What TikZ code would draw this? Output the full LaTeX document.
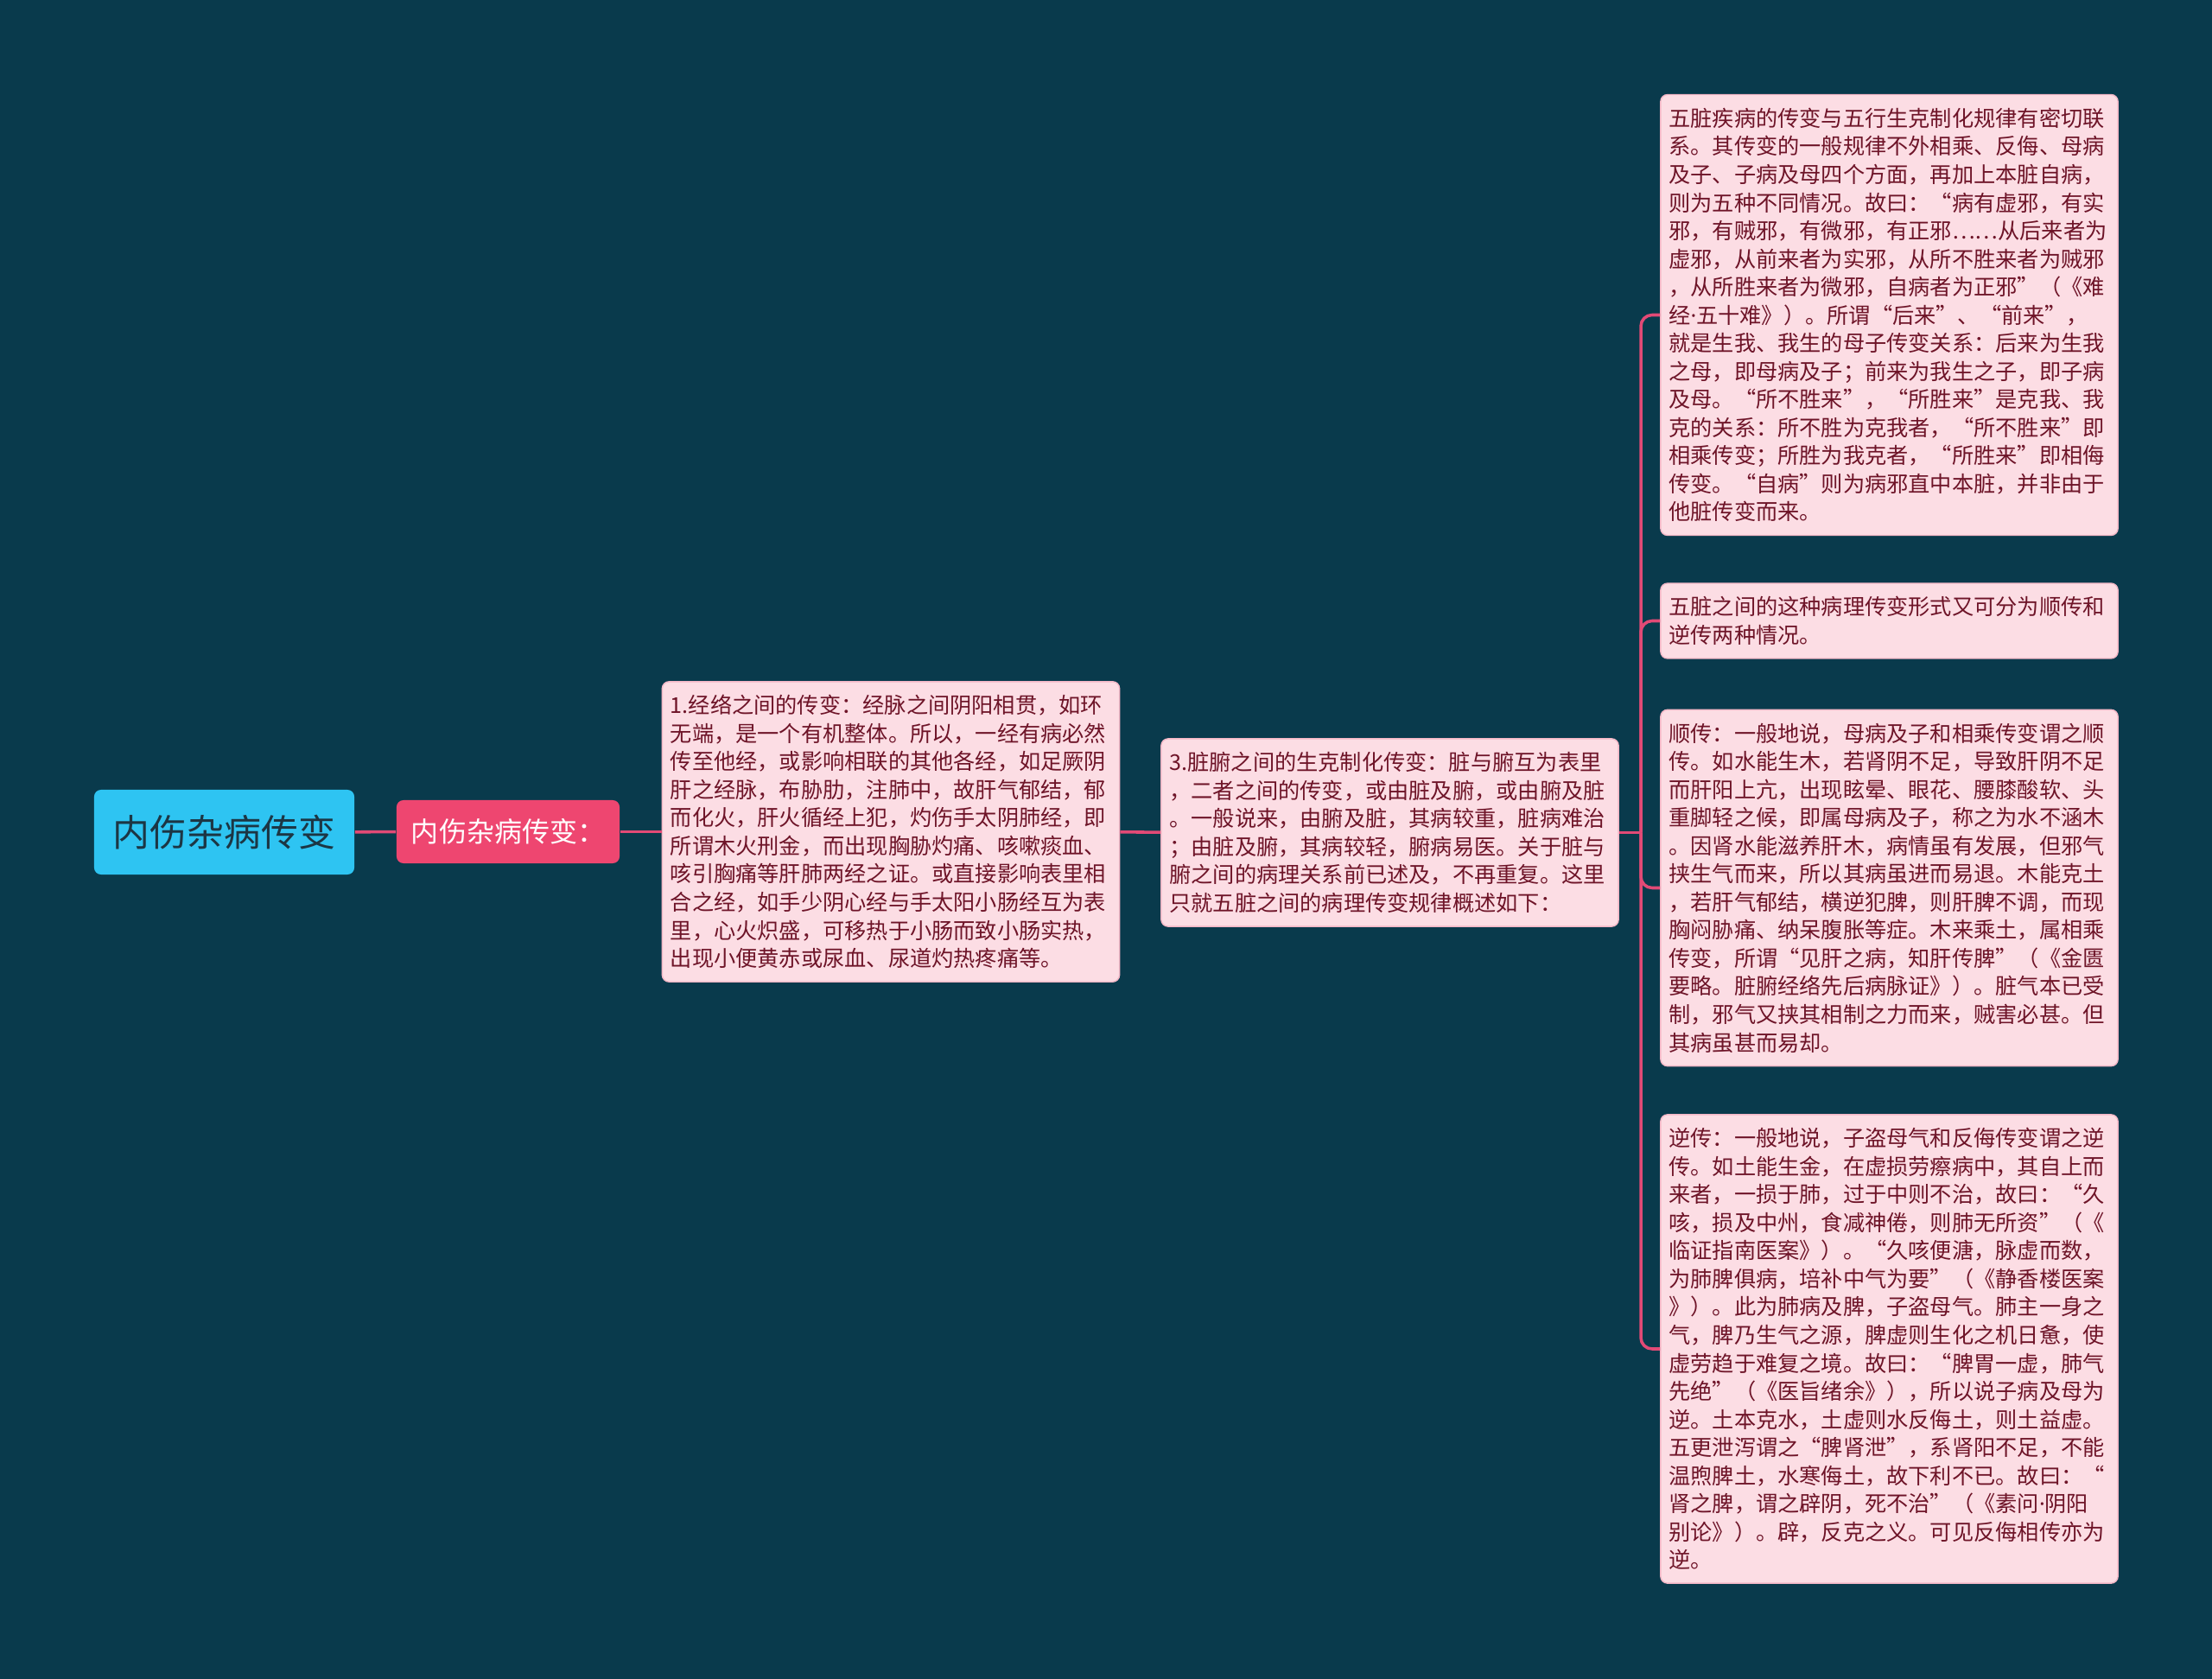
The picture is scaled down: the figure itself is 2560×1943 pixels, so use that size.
\documentclass[tikz,border=0pt]{standalone}
\usepackage{fontspec}
\newfontfamily\cjk{Noto Sans CJK SC}
\newfontfamily\latinf{Noto Sans}
\newcommand{\middot}{{\latinf ·}}
\definecolor{bgcol}{HTML}{093A4C}
\definecolor{rootfill}{HTML}{2EC4F2}
\definecolor{roottext}{HTML}{1C3644}
\definecolor{subfill}{HTML}{EE4670}
\definecolor{linkcol}{HTML}{E24A76}
\definecolor{leaffill}{HTML}{FCDDE4}
\definecolor{leafline}{HTML}{F3B7C6}
\definecolor{leaftext}{HTML}{6E1428}
\tikzset{
  rootbox/.style={fill=rootfill, rounded corners=0.08cm, minimum width=3.01cm, minimum height=0.98cm, text=roottext, font=\cjk\fontsize{12.2}{14}\selectfont},
  subbox/.style={fill=subfill, rounded corners=0.08cm, minimum width=2.58cm, minimum height=0.73cm, text=white, font=\cjk\fontsize{9.1}{11}\selectfont},
  leaf/.style={draw=leafline, fill=leaffill, rounded corners=0.08cm, text width=5.1cm, inner xsep=0.095cm, inner ysep=0.155cm, align=left, text=leaftext, font=\cjk\fontsize{7.17}{9.25}\selectfont},
  link/.style={draw=linkcol, line width=1pt}
}
\begin{document}
\begin{tikzpicture}[x=0.01cm,y=-0.01cm]
\fill[bgcol] (0,0) rectangle (2560,1943);
\useasboundingbox (0,0) rectangle (2560,1943);
\def\hubx{1899}

\node[rootbox] (root) at (259.5,963) {内伤杂病传变};
\node[subbox] (sub) at (588,962.5) {内伤杂病传变：};
\node[leaf] (jing) at (1031,962.5) {1.经络之间的传变：经脉之间阴阳相贯，如环\\无端，是一个有机整体。所以，一经有病必然\\传至他经，或影响相联的其他各经，如足厥阴\\肝之经脉，布胁肋，注肺中，故肝气郁结，郁\\而化火，肝火循经上犯，灼伤手太阴肺经，即\\所谓木火刑金，而出现胸胁灼痛、咳嗽痰血、\\咳引胸痛等肝肺两经之证。或直接影响表里相\\合之经，如手少阴心经与手太阳小肠经互为表\\里，心火炽盛，可移热于小肠而致小肠实热，\\出现小便黄赤或尿血、尿道灼热疼痛等。};
\node[leaf] (zang) at (1608.5,963.5) {3.脏腑之间的生克制化传变：脏与腑互为表里\\，二者之间的传变，或由脏及腑，或由腑及脏\\。一般说来，由腑及脏，其病较重，脏病难治\\；由脏及腑，其病较轻，腑病易医。关于脏与\\腑之间的病理关系前已述及，不再重复。这里\\只就五脏之间的病理传变规律概述如下：};

\node[leaf] (wuzang) at (2186.5,364.5) {五脏疾病的传变与五行生克制化规律有密切联\\系。其传变的一般规律不外相乘、反侮、母病\\及子、子病及母四个方面，再加上本脏自病，\\则为五种不同情况。故曰：“病有虚邪，有实\\邪，有贼邪，有微邪，有正邪……从后来者为\\虚邪，从前来者为实邪，从所不胜来者为贼邪\\，从所胜来者为微邪，自病者为正邪”（《难\\经\middot 五十难》）。所谓“后来”、“前来”，\\就是生我、我生的母子传变关系：后来为生我\\之母，即母病及子；前来为我生之子，即子病\\及母。“所不胜来”，“所胜来”是克我、我\\克的关系：所不胜为克我者，“所不胜来”即\\相乘传变；所胜为我克者，“所胜来”即相侮\\传变。“自病”则为病邪直中本脏，并非由于\\他脏传变而来。};
\node[leaf] (xingshi) at (2186.5,718.5) {五脏之间的这种病理传变形式又可分为顺传和\\逆传两种情况。};
\node[leaf] (shun) at (2186.5,1027.5) {顺传：一般地说，母病及子和相乘传变谓之顺\\传。如水能生木，若肾阴不足，导致肝阴不足\\而肝阳上亢，出现眩晕、眼花、腰膝酸软、头\\重脚轻之候，即属母病及子，称之为水不涵木\\。因肾水能滋养肝木，病情虽有发展，但邪气\\挟生气而来，所以其病虽进而易退。木能克土\\，若肝气郁结，横逆犯脾，则肝脾不调，而现\\胸闷胁痛、纳呆腹胀等症。木来乘土，属相乘\\传变，所谓“见肝之病，知肝传脾”（《金匮\\要略。脏腑经络先后病脉证》）。脏气本已受\\制，邪气又挟其相制之力而来，贼害必甚。但\\其病虽甚而易却。};
\node[leaf] (ni) at (2186.5,1561) {逆传：一般地说，子盗母气和反侮传变谓之逆\\传。如土能生金，在虚损劳瘵病中，其自上而\\来者，一损于肺，过于中则不治，故曰：“久\\咳，损及中州，食减神倦，则肺无所资”（《\\临证指南医案》）。“久咳便溏，脉虚而数，\\为肺脾俱病，培补中气为要”（《静香楼医案\\》）。此为肺病及脾，子盗母气。肺主一身之\\气，脾乃生气之源，脾虚则生化之机日惫，使\\虚劳趋于难复之境。故曰：“脾胃一虚，肺气\\先绝”（《医旨绪余》），所以说子病及母为\\逆。土本克水，土虚则水反侮土，则土益虚。\\五更泄泻谓之“脾肾泄”，系肾阳不足，不能\\温煦脾土，水寒侮土，故下利不已。故曰：“\\肾之脾，谓之辟阴，死不治”（《素问\middot 阴阳\\别论》）。辟，反克之义。可见反侮相传亦为\\逆。};

\coordinate (hub) at (\hubx,963.5);
\draw[link] (root) -- (sub);
\draw[link] (sub) -- (jing);
\draw[link] (jing) -- (zang);
\draw[link] (zang.east) -- (hub);
\foreach \leafname in {wuzang,xingshi,shun,ni}
  \draw[link, rounded corners=0.13cm] (hub) |- (\leafname.west);
\end{tikzpicture}
\end{document}
